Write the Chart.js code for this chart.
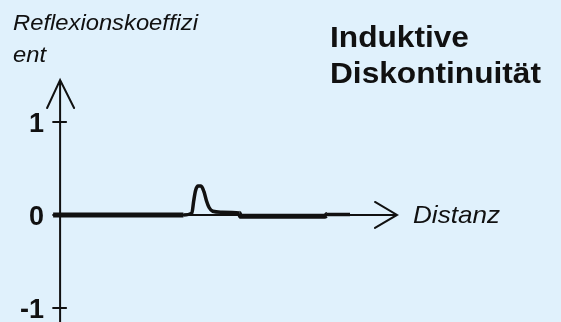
<!DOCTYPE html>
<html>
<head>
<meta charset="utf-8">
<script src="https://cdn.jsdelivr.net/npm/chart.js@4/dist/chart.umd.min.js"></script>
<style>
  html, body { margin: 0; padding: 0; background: rgb(224,241,252); }
  canvas { display: block; }
</style>
</head>
<body>
<canvas id="chart" width="561" height="322"></canvas>
<script>
// Reflexionskoeffizient ueber Distanz (Pulse bei induktiver Diskontinuitaet)
const distanz = [6.3, 41.8, 44.1, 44.6, 45.1, 45.8, 46.6, 47.4, 48.1, 48.8, 49.8, 52, 57, 57.4, 80.4, 80.9, 87.2];
const reflexion = [0, 0, 0.02, 0.15, 0.26, 0.31, 0.31, 0.25, 0.15, 0.08, 0.04, 0.03, 0.02, -0.015, -0.015, 0.005, 0.005];
const yTicks = [1, 0, -1];
const yTickLabels = ['1', '0', '-1'];
const titelZeilen = ['Induktive', 'Diskontinuität'];
const yTitelZeilen = ['Reflexionskoeffizi', 'ent'];
const xTitel = 'Distanz';
const yAchseBei = 8.2;

const points = distanz.map((d, i) => ({ x: d, y: reflexion[i] }));

// text horizontal gestreckt, damit Breite zum Original passt
function stretchedText(ctx, text, x, y, font, factor, align) {
    ctx.save();
    ctx.font = font;
    ctx.textAlign = 'left';
    ctx.textBaseline = 'alphabetic';
    const w = ctx.measureText(text).width * factor;
    const left = align === 'right' ? x - w : x;
    ctx.translate(left, y);
    ctx.scale(factor, 1);
    ctx.fillText(text, 0, 0);
    ctx.restore();
}

function fitFactor(ctx, text, font, width) {
    ctx.save();
    ctx.font = font;
    const f = width / ctx.measureText(text).width;
    ctx.restore();
    return f;
}

const achsen = {
    id: 'achsen',
    beforeDatasetsDraw(chart) {
        const ctx = chart.ctx;
        const xs = chart.scales.x;
        const ys = chart.scales.y;
        const x0 = xs.getPixelForValue(yAchseBei);
        const y0 = ys.getPixelForValue(0);
        const xEnd = xs.getPixelForValue(xs.max);
        const yTop = ys.getPixelForValue(ys.max);
        ctx.save();
        ctx.strokeStyle = '#111';
        ctx.lineWidth = 2;
        ctx.lineCap = 'round';
        // y-Achse
        ctx.beginPath();
        ctx.moveTo(x0, chart.height);
        ctx.lineTo(x0, yTop);
        ctx.moveTo(x0 - 13, yTop + 28);
        ctx.lineTo(x0, yTop);
        ctx.lineTo(x0 + 14, yTop + 28);
        ctx.stroke();
        // x-Achse
        ctx.beginPath();
        ctx.moveTo(xs.getPixelForValue(distanz[0]), y0);
        ctx.lineTo(xEnd, y0);
        ctx.moveTo(xEnd - 22, y0 - 13);
        ctx.lineTo(xEnd, y0);
        ctx.lineTo(xEnd - 22, y0 + 13);
        ctx.stroke();
        // Ticks
        yTicks.forEach(t => {
            const py = ys.getPixelForValue(t);
            if (t !== 0) {
                ctx.beginPath();
                ctx.moveTo(x0 - 7, py);
                ctx.lineTo(x0 + 6, py);
                ctx.stroke();
            }
        });
        ctx.restore();
    },
    afterDraw(chart) {
        const ctx = chart.ctx;
        const ys = chart.scales.y;
        ctx.save();
        ctx.fillStyle = '#111';
        // Tick-Beschriftung
        yTicks.forEach((t, i) => {
            const py = ys.getPixelForValue(t);
            stretchedText(ctx, yTickLabels[i], 44, py + 10, 'bold 27px "Liberation Sans", Arial, sans-serif', 1.0, 'right');
        });
        // y-Titel
        const yFont = 'italic 22px "Liberation Sans", Arial, sans-serif';
        const fy = fitFactor(ctx, yTitelZeilen[0], yFont, 185);
        stretchedText(ctx, yTitelZeilen[0], 13, 30, yFont, fy);
        stretchedText(ctx, yTitelZeilen[1], 13, 62, yFont, fy);
        // x-Titel
        const xFont = 'italic 24px "Liberation Sans", Arial, sans-serif';
        stretchedText(ctx, xTitel, 413, ys.getPixelForValue(0) + 8, xFont, fitFactor(ctx, xTitel, xFont, 87));
        // Titel
        const tFont = 'bold 29px "Liberation Sans", Arial, sans-serif';
        const ft = fitFactor(ctx, titelZeilen[1], tFont, 211);
        stretchedText(ctx, titelZeilen[0], 330, 47, tFont, ft);
        stretchedText(ctx, titelZeilen[1], 330, 83, tFont, ft);
        ctx.restore();
    }
};

new Chart(document.getElementById('chart'), {
    type: 'line',
    data: {
        datasets: [{
            data: points,
            borderColor: '#111',
            borderWidth: 5,
            pointRadius: 0,
            cubicInterpolationMode: 'monotone',
            borderJoinStyle: 'round',
            segment: {
                // Pulse und letztes Stueck etwas duenner gezeichnet
                borderWidth: c => (c.p0DataIndex >= 1 && c.p0DataIndex <= 11) || c.p0DataIndex >= 15 ? 3.5 : 5
            },
            fill: false
        }]
    },
    options: {
        responsive: false,
        animation: false,
        layout: { padding: { left: 30, right: 164, top: 80, bottom: 0 } },
        plugins: { legend: { display: false }, tooltip: { enabled: false }, title: { display: false } },
        scales: {
            x: { type: 'linear', min: 0, max: 100, display: false },
            y: { type: 'linear', min: -1.15, max: 1.45, display: false }
        }
    },
    plugins: [achsen]
});
</script>
</body>
</html>
